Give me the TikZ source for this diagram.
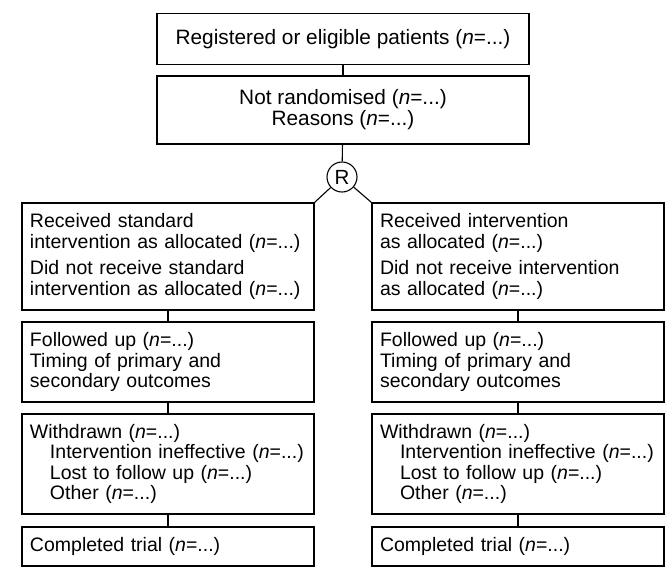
\documentclass[tikz,border=0pt]{standalone}
\usepackage{fontspec}
\setmainfont{Liberation Sans}
\newcommand{\ncount}{(\textit{n}=...)}

\begin{document}
\begin{tikzpicture}[x=1pt, y=-1pt,
	box/.style={draw, line width=1.1pt, inner xsep=8pt, inner ysep=0pt,
		font=\fontsize{19.5}{20.5}\selectfont},
	widebox/.style={box, minimum width=372pt, align=center,
		font=\fontsize{20.8}{21}\selectfont},
	colbox/.style={box, text width=276pt, align=left},
	link/.style={line width=1.1pt}]

\useasboundingbox (0,0) rectangle (667,579);

% Registration and randomisation
\node[widebox, minimum height=51pt] (reg) at (343,39) {Registered or eligible patients \ncount};
\node[widebox, minimum height=68pt] (notrand) at (343,110) {Not randomised \ncount\\Reasons \ncount};
\node[circle, draw, line width=1.1pt, minimum size=30pt, inner sep=0pt,
	font=\fontsize{20.5}{21}\selectfont] (rand) at (342,177) {R};

% Standard intervention arm
\node[colbox, minimum height=107pt] (left1) at (168,256.5)
	{Received standard\\intervention as allocated \ncount\\[6pt]Did not receive standard\\intervention as allocated \ncount};
\node[colbox, minimum height=80pt] (left2) at (168,362)
	{Followed up \ncount\\Timing of primary and\\secondary outcomes};
\node[colbox, minimum height=100pt] (left3) at (168,464)
	{Withdrawn \ncount\\\hspace*{20pt}Intervention ineffective \ncount\\\hspace*{20pt}Lost to follow up \ncount\\\hspace*{20pt}Other \ncount};
\node[colbox, minimum height=39pt] (left4) at (168,546.5) {Completed trial \ncount};

% Intervention arm
\node[colbox, minimum height=107pt] (right1) at (518,256.5)
	{Received intervention\\as allocated \ncount\\[6pt]Did not receive intervention\\as allocated \ncount};
\node[colbox, minimum height=80pt] (right2) at (518,362)
	{Followed up \ncount\\Timing of primary and\\secondary outcomes};
\node[colbox, minimum height=100pt] (right3) at (518,464)
	{Withdrawn \ncount\\\hspace*{20pt}Intervention ineffective \ncount\\\hspace*{20pt}Lost to follow up \ncount\\\hspace*{20pt}Other \ncount};
\node[colbox, minimum height=39pt] (right4) at (518,546.5) {Completed trial \ncount};

% Connectors
\draw[link] (reg) -- (notrand);
\draw[link] (notrand) -- (rand);
\draw[link] (rand) -- (left1.north east);
\draw[link] (rand) -- (right1.north west);
\foreach \a/\b in {left1/left2, left2/left3, left3/left4, right1/right2, right2/right3, right3/right4}
	\draw[link] (\a) -- (\b);

\end{tikzpicture}
\end{document}
